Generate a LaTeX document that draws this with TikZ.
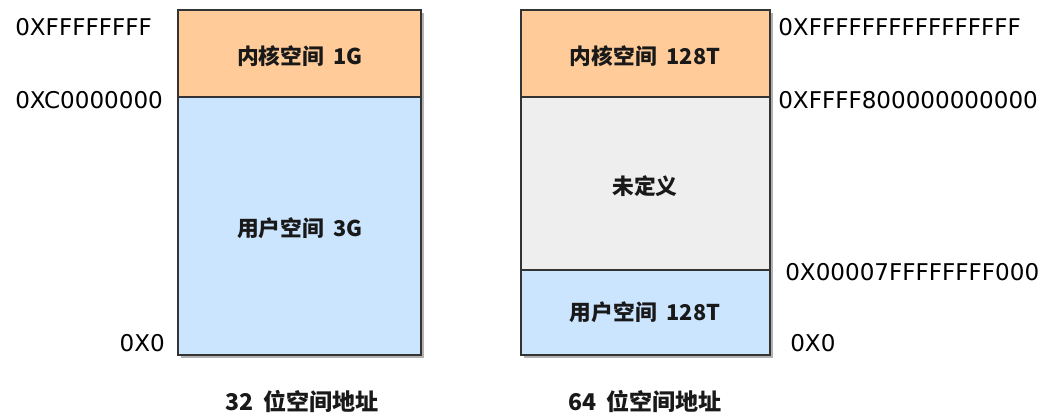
\documentclass[tikz,border=0pt]{standalone}
\usepackage{fontspec}
\setmainfont{DejaVu Sans}
\newfontfamily\cjk{Noto Sans CJK SC}
\definecolor{kern}{HTML}{FFCC99}
\definecolor{user}{HTML}{CCE5FF}
\definecolor{undef}{HTML}{EEEEEE}
\definecolor{edge}{HTML}{333333}
\tikzset{
  region/.style={draw=edge, line width=1.1pt},
  boxshadow/.style={fill=black!30, draw=none},
  addr/.style={font=\fontsize{17.3}{20}\selectfont, text=black, inner sep=0pt},
  lbl/.style={font=\cjk\bfseries\fontsize{16.3}{18}\selectfont, text=black!90, inner sep=0pt},
  captxt/.style={font=\cjk\bfseries\fontsize{17.3}{19}\selectfont, text=black!90, inner sep=0pt},
}
\newcommand{\gap}{\hspace{0.45em}}
\begin{document}
\begin{tikzpicture}[x=0.75pt,y=-0.75pt]
\useasboundingbox (0,0) rectangle (1041,418);
% shadows
\fill[boxshadow] (181,13) rectangle (424,358);
\fill[boxshadow] (524,13) rectangle (773,358);
% left box
\draw[region, fill=kern] (178,10) rectangle (421,97);
\draw[region, fill=user] (178,97) rectangle (421,355);
% right box
\draw[region, fill=kern] (521,10) rectangle (770,97);
\draw[region, fill=undef] (521,97) rectangle (770,270);
\draw[region, fill=user] (521,270) rectangle (770,355);
% box labels
\node[lbl] (k32) at (300,56) {内核空间\gap 1G};
\node[lbl] (u32) at (300,228) {用户空间\gap 3G};
\node[lbl] (k64) at (645,56) {内核空间\gap 128T};
\node[lbl] (x64) at (645,186) {未定义};
\node[lbl] (u64) at (645,312) {用户空间\gap 128T};
% address labels left
\node[addr, anchor=west] (a1) at (15,27) {0XFFFFFFFF};
\node[addr, anchor=west] (a2) at (15,100) {0XC0000000};
\node[addr, anchor=east] (a3) at (165,343) {0X0};
% address labels right
\node[addr, anchor=west] (b1) at (778,27) {0XFFFFFFFFFFFFFFFF};
\node[addr, anchor=west] (b2) at (778,100) {0XFFFF800000000000};
\node[addr, anchor=west] (b3) at (785,272) {0X00007FFFFFFFF000};
\node[addr, anchor=west] (b4) at (790,343) {0X0};
% captions
\node[captxt] (c32) at (302,401) {32\gap 位空间地址};
\node[captxt] (c64) at (645,401) {64\gap 位空间地址};
\end{tikzpicture}
\end{document}
